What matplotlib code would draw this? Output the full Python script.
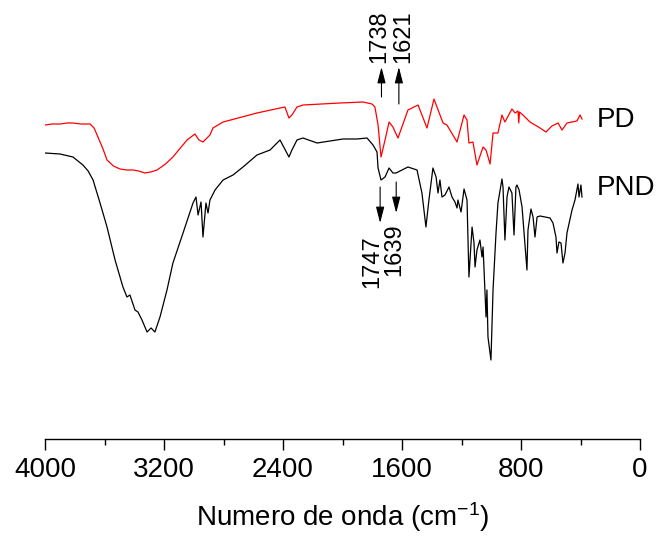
import matplotlib
matplotlib.use("Agg")
import matplotlib.pyplot as plt
import numpy as np

plt.rcParams['font.family'] = ['Liberation Sans', 'DejaVu Sans']
plt.rcParams['mathtext.fontset'] = 'custom'
plt.rcParams['mathtext.rm'] = 'Liberation Sans'
plt.rcParams['mathtext.it'] = 'Liberation Sans:italic'

# PD spectrum (wavenumber, offset transmittance)
pd_wn = [4000, 3950, 3899, 3850, 3812, 3760, 3697, 3670, 3644, 3610, 3583, 3540,
         3496, 3450, 3408, 3370, 3328, 3290, 3247, 3190, 3140, 3090, 3045,
         2992, 2965, 2938, 2891, 2871, 2803, 2575, 2420, 2387, 2360, 2340, 2306,
         2266, 2017, 1862, 1802, 1782, 1761, 1741, 1714, 1687, 1661, 1627, 1560,
         1492, 1432, 1385, 1324, 1298, 1230, 1183, 1163, 1150, 1123, 1096, 1069,
         1055, 1035, 1008, 988, 955, 928, 908, 861, 840, 820, 815, 810, 787, 740,
         672, 632, 592, 551, 524, 491, 424, 403, 390]
pd_t = [314, 315, 315, 316, 316, 315, 315, 311, 302, 290, 279, 273,
        270, 269, 269, 268, 266, 267, 269, 275, 282, 291, 299,
        305, 299, 297, 304, 311, 317, 326, 331, 332, 321, 324, 332,
        334, 336, 337, 335, 332, 314, 282, 299, 317, 312, 301, 329,
        334, 311, 340, 316, 314, 297, 324, 319, 296, 297, 274, 286,
        292, 289, 275, 306, 306, 324, 317, 330, 326, 328, 316, 327, 324, 317,
        311, 307, 313, 316, 309, 316, 318, 324, 320]

# PND spectrum
pnd_wn = [4000, 3899, 3812, 3745, 3710, 3677, 3630, 3583, 3529, 3476, 3449, 3429,
          3395, 3375, 3348, 3314, 3287, 3261, 3227, 3180, 3140, 3072, 3005, 2985,
          2971, 2951, 2938, 2918, 2904, 2891, 2857, 2803, 2736, 2669, 2575, 2487,
          2420, 2360, 2340, 2306, 2266, 2171, 2084, 1997, 1903, 1835, 1795, 1768,
          1761, 1741, 1714, 1687, 1661, 1640, 1560, 1499, 1466, 1439, 1419, 1392,
          1371, 1358, 1345, 1331, 1311, 1284, 1264, 1244, 1230, 1224, 1203, 1183,
          1163, 1150, 1129, 1116, 1109, 1096, 1076, 1062, 1055, 1035, 1029, 1022,
          1002, 988, 968, 955, 928, 921, 908, 894, 881, 861, 847, 834, 827, 813,
          793, 760, 753, 733, 719, 706, 692, 672, 605, 585, 565, 558, 545, 531,
          518, 504, 491, 457, 437, 417, 410, 397, 390]
pnd_t = [286, 285, 282, 274, 268, 259, 236, 212, 179, 152, 142, 144,
         129, 127, 119, 107, 111, 107, 122, 149, 176, 206, 236, 242,
         224, 237, 202, 236, 226, 239, 249, 259, 264, 272, 284, 289,
         299, 282, 289, 299, 301, 296, 298, 300, 300, 301, 294, 287,
         271, 259, 262, 271, 266, 266, 272, 269, 246, 212, 239, 271,
         262, 246, 259, 242, 244, 252, 242, 237, 231, 239, 227, 250,
         239, 162, 212, 196, 172, 189, 199, 182, 192, 122, 149, 102,
         79, 149, 206, 236, 260, 252, 199, 242, 252, 246, 204, 252, 254, 249,
         232, 169, 209, 230, 222, 202, 222, 223, 221, 216, 202, 186, 197, 196,
         176, 186, 206, 229, 239, 255, 242, 254, 242]

peaks_pd = [1738, 1621]
peaks_pnd = [1747, 1639]

fig = plt.figure(figsize=(6.6, 5.38), dpi=100)
ax = fig.add_axes([45/660, 99/538, 595/660, 439/538])

ax.plot(pd_wn, pd_t, color='red', lw=0.9)
ax.plot(pnd_wn, pnd_t, color='black', lw=0.9)

ax.set_xlim(4000, 0)
ax.set_ylim(0, 439)
ax.set_xticks([4000, 3200, 2400, 1600, 800, 0])
ax.set_xticks([3600, 2800, 2000, 1200, 400], minor=True)
ax.tick_params(axis='x', which='major', length=8, width=1, labelsize=20, pad=5)
ax.tick_params(axis='x', which='minor', length=4, width=1)
ax.set_yticks([])
for s in ['left', 'right', 'top']:
    ax.spines[s].set_visible(False)
ax.spines['bottom'].set_linewidth(1)
ax.set_xlabel('Numero de onda (cm$^{-1}$)', fontsize=20, labelpad=12)

arrow = dict(arrowstyle='-|>,head_length=0.7,head_width=0.18', color='black',
             lw=0.8, mutation_scale=14, shrinkA=0, shrinkB=0)

# PD bands, arrows pointing up
ax.annotate('', xy=(peaks_pd[0], 372), xytext=(peaks_pd[0], 342), arrowprops=arrow)
ax.annotate('', xy=(peaks_pd[1], 372), xytext=(peaks_pd[1], 335), arrowprops=arrow)
ax.text(1750, 376, str(peaks_pd[0]), rotation=90, ha='center', va='bottom', fontsize=17)
ax.text(1593, 376, str(peaks_pd[1]), rotation=90, ha='center', va='bottom', fontsize=17)

# PND bands, arrows pointing down
ax.annotate('', xy=(peaks_pnd[0], 216), xytext=(peaks_pnd[0], 252), arrowprops=arrow)
ax.annotate('', xy=(peaks_pnd[1], 226), xytext=(peaks_pnd[1], 257), arrowprops=arrow)
ax.text(1800, 204, str(peaks_pnd[0]), rotation=90, ha='center', va='top', fontsize=17)
ax.text(1654, 216, str(peaks_pnd[1]), rotation=90, ha='center', va='top', fontsize=17)

ax.text(289, 319, 'PD', ha='left', va='center', fontsize=20)
ax.text(289, 251, 'PND', ha='left', va='center', fontsize=20)

fig.savefig('out.png', dpi=100)
